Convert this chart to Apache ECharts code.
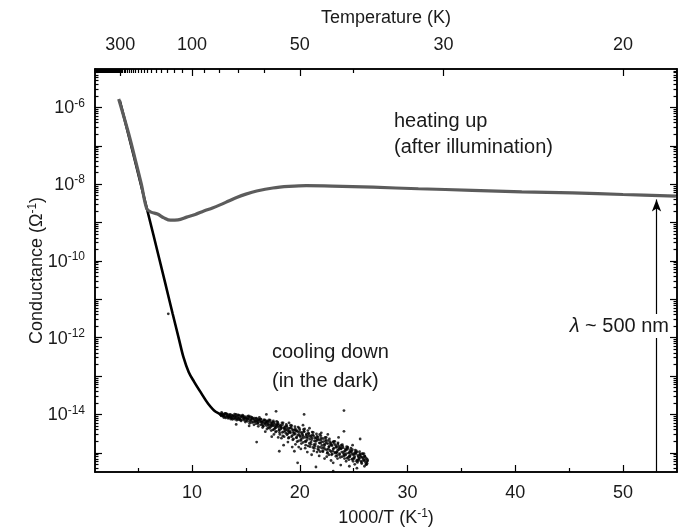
<!DOCTYPE html>
<html><head><meta charset="utf-8">
<script src="https://cdn.jsdelivr.net/npm/echarts@6/dist/echarts.min.js"></script>
<style>html,body{margin:0;padding:0;background:#fff}#c{width:686px;height:531px}</style>
</head><body><div id="c"></div>
<script>
// ---------------- data (x = 1000/T in 1/K, y = log10 of conductance in 1/Ohm) ----------------
const coolingCurve = [
  [3.3,-5.82],[4.3,-6.93],[5.3,-8.06],[6.4,-9.30],[7.5,-10.56],[8.2,-11.37],[8.8,-12.05],
  [9.2,-12.50],[9.7,-12.90],[10.2,-13.15],[10.8,-13.42],[11.5,-13.72],[12.2,-13.93],[13.0,-14.03]
];
const heatingCurve = [
  [3.2,-5.78],[4.1,-6.66],[4.7,-7.32],[5.3,-8.00],[5.8,-8.64],[6.2,-8.73],[6.8,-8.78],[7.4,-8.88],
  [8.0,-8.94],[8.7,-8.93],[9.5,-8.86],[10.3,-8.79],[11.1,-8.70],[11.9,-8.62],[12.6,-8.54],
  [13.4,-8.44],[14.2,-8.34],[15.0,-8.26],[16.0,-8.18],[17.5,-8.10],[19.0,-8.06],[20.6,-8.04],
  [23.0,-8.05],[26.8,-8.08],[31.0,-8.12],[36.0,-8.16],[40.6,-8.20],[45.3,-8.23],[50.0,-8.27],[54.9,-8.31]
];
const coolingScatter = [
  [12.6,-13.99],[12.7,-14.02],[12.8,-13.98],[12.9,-14.05],[13.0,-14.01],[13.1,-14.06],[13.2,-14.00],[13.3,-14.04],
  [13.4,-14.08],[13.5,-14.03],[13.6,-14.07],[13.7,-14.02],[13.8,-14.10],[13.9,-14.05],[14.0,-14.09],[14.1,-14.04],
  [14.2,-14.12],[14.3,-14.06],[14.4,-14.10],[14.5,-14.03],[14.6,-14.14],[14.7,-14.08],[14.8,-14.11],[14.9,-14.06],
  [15.0,-14.16],[15.1,-14.10],[15.2,-14.13],[15.3,-14.07],[15.4,-14.18],[15.5,-14.12],[15.6,-14.09],[15.7,-14.20],
  [15.8,-14.14],[15.9,-14.17],[16.0,-14.11],[16.1,-14.22],[16.2,-14.15],[16.3,-14.19],[16.4,-14.12],[16.5,-14.26],
  [16.6,-14.18],[16.7,-14.23],[16.8,-14.16],[16.9,-14.29],[17.0,-14.21],[17.1,-14.25],[17.2,-14.19],[17.3,-14.33],
  [17.4,-14.24],[17.5,-14.28],[17.6,-14.21],[17.7,-14.36],[17.8,-14.27],[17.9,-14.31],[18.0,-14.24],[18.1,-14.40],
  [18.2,-14.30],[18.3,-14.35],[18.4,-14.27],[18.5,-14.45],[18.6,-14.33],[18.7,-14.39],[18.8,-14.30],[18.9,-14.50],
  [19.0,-14.37],[19.1,-14.44],[19.2,-14.34],[19.3,-14.55],[19.4,-14.41],[19.5,-14.48],[19.6,-14.38],[19.7,-14.60],
  [19.8,-14.45],[19.9,-14.52],[20.0,-14.40],[20.1,-14.65],[20.2,-14.50],[20.3,-14.57],[20.4,-14.44],[20.5,-14.70],
  [20.6,-14.54],[20.7,-14.61],[20.8,-14.49],[20.9,-14.75],[21.0,-14.58],[21.1,-14.66],[21.2,-14.53],[21.3,-14.79],
  [21.4,-14.62],[21.5,-14.70],[21.6,-14.57],[21.7,-14.84],[21.8,-14.66],[21.9,-14.75],[22.0,-14.61],[22.1,-14.88],
  [22.2,-14.71],[22.3,-14.80],[22.4,-14.66],[22.5,-14.92],[22.6,-14.76],[22.7,-14.85],[22.8,-14.71],[22.9,-14.97],
  [23.0,-14.81],[23.1,-14.90],[23.2,-14.76],[23.3,-15.01],[23.4,-14.86],[23.5,-14.94],[23.6,-14.82],[23.7,-15.05],
  [23.8,-14.90],[23.9,-14.98],[24.0,-14.87],[24.1,-15.08],[24.2,-14.95],[24.3,-15.02],[24.4,-14.91],[24.5,-15.12],
  [24.6,-14.99],[24.7,-15.06],[24.8,-14.96],[24.9,-15.16],[25.0,-15.03],[25.1,-15.10],[25.2,-15.00],[25.3,-15.19],
  [25.4,-15.07],[25.5,-15.14],[25.6,-15.05],[25.7,-15.22],[25.8,-15.11],[25.9,-15.18],[26.0,-15.09],[26.1,-15.25],
  [26.2,-15.15],[26.3,-15.21],
  [12.65,-14.01],[12.85,-14.03],[13.05,-13.97],[13.25,-14.05],[13.45,-14.01],[13.65,-14.09],[13.85,-14.03],[14.05,-14.07],
  [14.25,-14.01],[14.45,-14.13],[14.65,-14.05],[14.85,-14.09],[15.05,-14.12],[15.25,-14.04],[15.45,-14.15],[15.65,-14.13],
  [15.85,-14.19],[16.05,-14.16],[16.25,-14.08],[16.45,-14.21],[16.65,-14.14],[16.85,-14.20],[17.05,-14.27],[17.25,-14.15],
  [17.45,-14.30],[17.65,-14.25],[17.85,-14.18],[18.05,-14.34],[18.25,-14.38],[18.45,-14.22],[18.65,-14.43],[18.85,-14.35],
  [19.05,-14.47],[19.25,-14.29],[19.45,-14.52],[19.65,-14.43],[19.85,-14.33],[20.05,-14.58],[20.25,-14.62],[20.45,-14.38],
  [20.65,-14.67],[20.85,-14.55],[21.05,-14.72],[21.25,-14.47],[21.45,-14.77],[21.65,-14.64],[21.85,-14.52],[22.05,-14.81],
  [22.25,-14.86],[22.45,-14.60],[22.65,-14.90],[22.85,-14.78],[23.05,-14.95],[23.25,-14.70],[23.45,-14.99],[23.65,-14.88],
  [23.85,-14.80],[24.05,-15.02],[24.25,-15.06],[24.45,-14.85],[24.65,-15.10],[24.85,-15.02],[25.05,-15.15],[25.25,-14.95],
  [25.45,-15.20],[25.65,-15.12],[25.85,-15.03],[26.05,-15.19],[26.25,-15.28],
  [12.75,-13.95],[12.95,-14.08],[13.15,-13.97],[13.35,-14.10],[13.55,-14.00],[13.75,-14.13],[13.95,-13.99],[14.15,-14.15],
  [14.35,-14.02],[14.55,-14.17],[14.75,-14.04],[14.95,-14.20],[15.15,-14.05],[15.35,-14.23],[15.55,-14.08],[15.75,-14.27],
  [15.95,-14.10],[16.15,-14.31],[16.35,-14.12],[16.55,-14.34],[16.75,-14.14],[16.95,-14.38],[17.15,-14.14],[17.35,-14.42],
  [17.55,-14.17],[17.75,-14.46],[17.95,-14.20],[18.15,-14.52],[18.35,-14.22],[18.55,-14.58],[18.75,-14.26],[18.95,-14.62],
  [19.15,-14.28],[19.35,-14.66],[19.55,-14.32],[19.75,-14.71],[19.95,-14.36],[20.15,-14.76],[20.35,-14.39],[20.55,-14.80],
  [20.75,-14.42],[20.95,-14.84],[21.15,-14.46],[21.35,-14.88],[21.55,-14.51],[21.75,-14.93],[21.95,-14.55],[22.15,-14.97],
  [22.35,-14.60],[22.55,-15.01],[22.75,-14.64],[22.95,-15.05],[23.15,-14.70],[23.35,-15.09],[23.55,-14.74],[23.75,-15.12],
  [23.95,-14.79],[24.15,-15.15],[24.35,-14.84],[24.55,-15.18],[24.75,-14.88],[24.95,-15.22],[25.15,-14.93],[25.35,-15.25],
  [25.55,-14.97],[25.75,-15.28],[25.95,-15.02],[26.15,-15.30],
  [12.72,-14.04],[12.93,-14.00],[13.12,-14.09],[13.28,-13.99],[13.47,-14.06],[13.58,-14.12],[13.74,-14.05],[13.96,-14.12],
  [14.08,-14.00],[14.22,-14.09],[14.38,-14.14],[14.53,-14.07],[14.69,-14.02],[14.82,-14.15],[14.97,-14.09],[15.14,-14.18],
  [15.28,-14.11],[15.43,-14.06],[15.57,-14.21],[15.78,-14.10],[15.92,-14.24],[16.07,-14.19],[16.18,-14.13],[16.36,-14.27],
  [16.52,-14.20],[16.63,-14.31],[16.79,-14.25],[16.97,-14.17],[17.08,-14.34],[17.22,-14.29],[17.37,-14.22],[17.51,-14.40],
  [17.68,-14.31],[17.83,-14.44],[17.97,-14.28],[18.12,-14.47],[18.27,-14.33],[18.42,-14.56],[18.58,-14.37],[18.71,-14.49],
  [18.87,-14.41],[18.99,-14.60],[19.14,-14.48],[19.29,-14.39],[19.42,-14.64],[19.58,-14.51],[19.73,-14.42],[19.88,-14.69],
  [20.04,-14.55],[20.17,-14.47],[20.32,-14.73],[20.48,-14.60],[20.61,-14.51],[20.78,-14.82],[20.91,-14.64],[21.07,-14.55],
  [21.22,-14.86],[21.36,-14.69],[21.52,-14.61],[21.67,-14.90],[21.81,-14.74],[21.97,-14.66],[22.12,-14.95],[22.28,-14.78],
  [22.41,-14.70],[22.57,-14.99],[22.72,-14.83],[22.88,-14.75],[23.02,-15.03],[23.17,-14.88],[23.32,-14.80],[23.48,-15.07],
  [23.61,-14.92],[23.77,-14.85],[23.93,-15.10],[24.08,-14.97],[24.23,-14.90],[24.38,-15.14],[24.52,-15.01],[24.67,-14.94],
  [24.83,-15.17],[24.98,-15.06],[25.12,-14.99],[25.27,-15.22],[25.43,-15.10],[25.58,-15.03],[25.72,-15.25],[25.88,-15.14],
  [26.03,-15.08],[26.18,-15.31],[26.28,-15.18],
  [16.12,-14.24],[16.41,-14.17],[16.58,-14.29],[16.88,-14.23],[17.02,-14.18],[17.18,-14.36],[17.31,-14.27],[17.47,-14.20],
  [17.62,-14.39],[17.79,-14.34],[17.91,-14.25],[18.08,-14.41],[18.21,-14.28],[18.38,-14.47],[18.52,-14.36],[18.69,-14.31],
  [18.82,-14.53],[18.96,-14.44],[19.11,-14.35],[19.24,-14.58],[19.39,-14.47],[19.52,-14.40],[19.69,-14.61],[19.81,-14.55],
  [19.97,-14.46],[20.11,-14.68],[20.27,-14.53],[20.39,-14.45],[20.57,-14.71],[20.69,-14.58],[20.83,-14.50],[21.01,-14.78],
  [21.14,-14.61],[21.29,-14.56],[21.42,-14.82],[21.58,-14.67],[21.71,-14.59],[21.88,-14.86],[22.02,-14.72],[22.17,-14.63],
  [22.33,-14.91],[22.46,-14.75],[22.61,-14.68],[22.79,-14.94],[22.93,-14.80],[23.08,-14.72],[23.23,-14.98],[23.39,-14.84],
  [23.53,-14.77],[23.69,-15.02],[23.84,-14.89],[23.98,-14.83],[24.13,-15.05],[24.29,-14.93],[24.43,-14.88],[24.59,-15.09],
  [24.72,-14.98],[24.88,-14.92],[25.02,-15.13],[25.18,-15.03],[25.33,-14.98],[25.48,-15.17],[25.63,-15.08],[25.79,-15.02],
  [25.94,-15.21],[26.09,-15.12],[26.22,-15.24],
  [18.3,-14.62],[19.6,-14.78],[20.5,-14.88],[21.9,-14.97],[22.7,-15.05],[24.3,-15.22],[25.1,-15.30],[26.0,-15.35],
  [19.9,-14.85],[21.3,-14.95],[23.5,-15.15],[17.6,-14.52],[20.3,-14.28],[22.6,-14.52],[24.9,-14.80],
  [17.4,-14.58],[18.9,-14.72],[19.3,-14.85],[20.1,-14.90],[20.7,-14.98],[21.1,-15.05],[21.8,-15.08],[22.3,-15.15],
  [22.9,-15.20],[23.8,-15.32],[24.6,-15.35],[25.3,-15.40],[19.0,-14.22],[20.9,-14.36],[22.0,-14.48],[23.6,-14.60],
  [15.3,-14.30],[16.8,-14.45],[18.0,-14.60],[21.6,-14.98],
  [16.9,-14.00],[17.8,-13.92],[20.4,-14.00],[24.1,-13.90],[24.1,-14.44],[25.6,-14.64],[16.0,-14.72],[14.1,-14.26],
  [19.8,-15.26],[21.5,-15.37],[23.1,-15.26],[23.1,-15.48],[18.5,-14.80],[18.1,-14.96],[19.5,-14.96],[22.5,-15.10],
  [23.4,-14.99],[7.8,-11.38]
];
const arrowStart = [53.1, -15.49];
const arrowEnd = [53.1, -8.40];

// ---------------- axis ticks / labels ----------------
const bottomMajorTicks = [10, 20, 30, 40, 50];
const bottomMinorTicks = [5, 15, 25, 35, 45];
const tempLabelsK = [300, 100, 50, 30, 20];
const decadeTicks = [-15, -14, -13, -12, -11, -10, -9, -8, -7, -6];
const decadeLabels = [-14, -12, -10, -8, -6];

const X_MIN = 1, X_MAX = 55, Y_MIN = -15.5, Y_MAX = -5.0;

const tempMinorX = [];
for (let T = 20; T < 1000; T += 10) { if (tempLabelsK.indexOf(T) < 0) tempMinorX.push(1000 / T); }
const tempMajorX = tempLabelsK.map(T => 1000 / T);
const logMinor = [];
for (let n = -16; n <= -6; n++) for (let k = 2; k <= 9; k++) {
  const v = n + Math.log10(k);
  if (v > Y_MIN && v < Y_MAX) logMinor.push(v);
}

const FONT = '"Liberation Sans", Arial, Helvetica, sans-serif';
const TXT = '#1a1a1a';
const AXC = '#000';
const supRich = {
  b: { fontSize: 18, fontFamily: FONT, color: TXT, lineHeight: 20, verticalAlign: 'bottom' },
  s: { fontSize: 12, fontFamily: FONT, color: TXT, lineHeight: 10, verticalAlign: 'top' }
};
const axisLineStyle = { show: true, onZero: false, lineStyle: { color: AXC, width: 1.5 } };

function xAx(pos, ticks, len, labels, extra) {
  return Object.assign({
    type: 'value', position: pos, min: X_MIN, max: X_MAX, gridIndex: 0,
    axisLine: axisLineStyle, splitLine: { show: false },
    axisTick: { show: true, inside: true, length: len, customValues: ticks, lineStyle: { color: AXC, width: 1.2 } },
    axisLabel: labels ? labels : { show: false }
  }, extra || {});
}
function yAx(pos, ticks, len, labels, extra) {
  return Object.assign({
    type: 'value', position: pos, min: Y_MIN, max: Y_MAX, gridIndex: 0,
    axisLine: axisLineStyle, splitLine: { show: false },
    axisTick: { show: true, inside: true, length: len, customValues: ticks, lineStyle: { color: AXC, width: 1.2 } },
    axisLabel: labels ? labels : { show: false }
  }, extra || {});
}

const chart = echarts.init(document.getElementById('c'), null, { renderer: 'canvas' });
chart.setOption({
  animation: false,
  backgroundColor: '#fff',
  grid: { left: 95, right: 9, top: 69, bottom: 59, containLabel: false, outerBoundsMode: 'none' },
  xAxis: [
    xAx('bottom', bottomMajorTicks, 7, {
      show: true, customValues: bottomMajorTicks, margin: 12,
      fontSize: 18, fontFamily: FONT, color: TXT
    }, {
      name: '1000/T (K{s|-1})', nameLocation: 'middle', nameGap: 36,
      nameTextStyle: { fontSize: 18, fontFamily: FONT, color: TXT, lineHeight: 20, rich: supRich }
    }),
    xAx('bottom', bottomMinorTicks, 4, null),
    xAx('top', tempMajorX, 7, {
      show: true, customValues: tempMajorX, margin: 15,
      fontSize: 18, fontFamily: FONT, color: TXT,
      formatter: v => String(Math.round(1000 / v))
    }, {
      name: 'Temperature (K)', nameLocation: 'middle', nameGap: 42,
      nameTextStyle: { fontSize: 18, fontFamily: FONT, color: TXT }
    }),
    xAx('top', tempMinorX, 4, null)
  ],
  yAxis: [
    yAx('left', decadeTicks, 7, {
      show: true, customValues: decadeLabels, margin: 10,
      formatter: v => '{b|10}{s|' + Math.round(v) + '}', rich: supRich
    }, {
      name: 'Conductance (Ω{s|-1})', nameLocation: 'middle', nameGap: 48, nameMoveOverlap: false,
      nameTextStyle: { fontSize: 18, fontFamily: FONT, color: TXT, lineHeight: 20, rich: supRich }
    }),
    yAx('left', logMinor, 3.5, null),
    yAx('right', decadeTicks, 7, null),
    yAx('right', logMinor, 3.5, null)
  ],
  series: [
    {
      name: 'cooling down', type: 'line', xAxisIndex: 0, yAxisIndex: 0,
      data: coolingCurve, showSymbol: false, symbol: 'none', smooth: 0.35,
      lineStyle: { color: '#000', width: 2.6 }, z: 3
    },
    {
      name: 'cooling scatter', type: 'scatter', xAxisIndex: 0, yAxisIndex: 0,
      data: coolingScatter, symbol: 'circle', symbolSize: 2.8,
      itemStyle: { color: '#000' }, z: 3
    },
    {
      name: 'heating up', type: 'line', xAxisIndex: 0, yAxisIndex: 0,
      data: heatingCurve, showSymbol: false, symbol: 'none', smooth: 0.35,
      lineStyle: { color: '#5c5c5c', width: 3.2 }, z: 4
    },
    {
      name: 'illumination', type: 'line', xAxisIndex: 0, yAxisIndex: 0,
      data: [], symbol: 'none',
      markLine: {
        silent: true, symbol: ['none', 'arrow'], symbolSize: [7, 12],
        lineStyle: { color: '#000', width: 1.2, type: 'solid' }, label: { show: false },
        data: [[{ coord: arrowStart }, { coord: arrowEnd }]]
      }, z: 2
    }
  ],
  graphic: [
    { type: 'text', z: 100, style: { x: 394, y: 121, text: 'heating up', fontSize: 20, fontFamily: FONT, fill: TXT, verticalAlign: 'middle' } },
    { type: 'text', z: 100, style: { x: 394, y: 147, text: '(after illumination)', fontSize: 20, fontFamily: FONT, fill: TXT, verticalAlign: 'middle' } },
    { type: 'text', z: 100, style: { x: 272, y: 352, text: 'cooling down', fontSize: 20, fontFamily: FONT, fill: TXT, verticalAlign: 'middle' } },
    { type: 'text', z: 100, style: { x: 272, y: 381, text: '(in the dark)', fontSize: 20, fontFamily: FONT, fill: TXT, verticalAlign: 'middle' } },
    { type: 'text', z: 100, style: { x: 669, y: 326, text: '{i|λ} ~ 500 nm', fontSize: 20, fontFamily: FONT, fill: TXT,
      align: 'right', verticalAlign: 'middle', backgroundColor: '#fff', padding: [2, 0, 2, 2],
      rich: { i: { fontStyle: 'italic', fontSize: 20, fontFamily: FONT, fill: TXT } } } }
  ]
});
</script>
</body></html>
